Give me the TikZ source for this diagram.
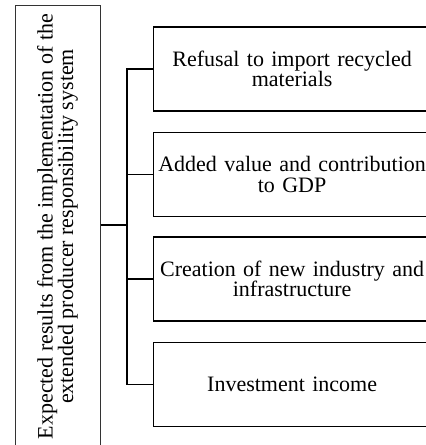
\documentclass[tikz,border=0pt]{standalone}
\usepackage{fontspec}
\setmainfont{Liberation Serif}
\begin{document}
\begin{tikzpicture}[x=1pt,y=-1pt,
  resbox/.style={draw, line width=1.2pt, minimum width=277pt, minimum height=84pt,
    text width=272pt, align=center, inner sep=0pt, anchor=west,
    font=\fontsize{22}{20.5}\selectfont},
  mainbox/.style={draw=black!80, line width=1pt, rotate=90, minimum width=442pt,
    minimum height=85pt, align=center, inner sep=0pt,
    font=\fontsize{22}{20.5}\selectfont},
  conn/.style={line width=1.2pt}]
\useasboundingbox (0,0) rectangle (426,445);
\clip (0,0) rectangle (426,445);
\node[mainbox] (main) at (57.5,226.5) {Expected results from the implementation of the\\extended producer responsibility system};
\node[resbox] (b1) at (153,69) {Refusal to import recycled\\materials};
\node[resbox] (b2) at (153,174.5) {Added value and contribution\\to GDP};
\node[resbox] (b3) at (153,279) {Creation of new industry and\\infrastructure};
\node[resbox] (b4) at (153,384.5) {Investment income};
\coordinate (j) at (127,225);
\draw[conn] (b1.west) -- (b1.west -| j) -- (b4.west -| j) -- (b4.west);
\draw[conn] (b2.west) -- (b2.west -| j);
\draw[conn] (b3.west) -- (b3.west -| j);
\draw[conn] (main.south |- j) -- (j);
\end{tikzpicture}
\end{document}
